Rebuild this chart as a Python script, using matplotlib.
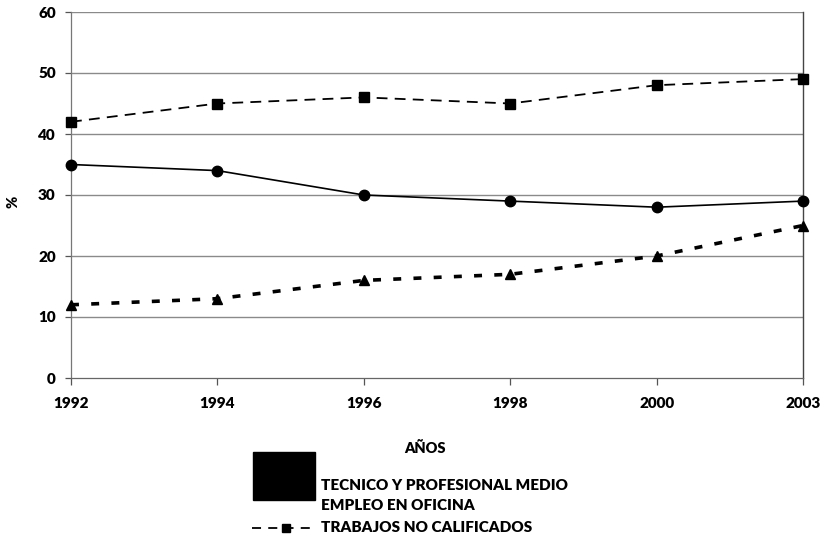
import matplotlib
matplotlib.use("Agg")
import matplotlib.pyplot as plt
from matplotlib.lines import Line2D
from matplotlib.patches import Rectangle

years = ["1992", "1994", "1996", "1998", "2000", "2003"]
tecnico = [12, 13, 16, 17, 20, 25]
oficina = [35, 34, 30, 29, 28, 29]
no_calif = [42, 45, 46, 45, 48, 49]
yticks = [0, 10, 20, 30, 40, 50, 60]

plt.rcParams['font.family'] = ['Lato', 'DejaVu Sans']
plt.rcParams['font.weight'] = 'bold'
FW = 'heavy'

W, H = 829, 537
fig = plt.figure(figsize=(W / 100, H / 100), dpi=100)
ax = fig.add_axes([71 / W, 1 - 378 / H, (803 - 71) / W, (378 - 12) / H])

x = list(range(len(years)))
ax.set_xlim(0, len(years) - 1)
ax.set_ylim(0, 60)

for v in yticks[1:]:
    ax.axhline(v, color='#8a8a8a', lw=1.0, zorder=1)

ax.plot(x, no_calif, color='black', lw=1.3, ls=(0, (6, 4)), marker='s', ms=7,
        clip_on=False, zorder=3)
ax.plot(x, oficina, color='black', lw=1.2, ls='-', marker='o', ms=7.5,
        clip_on=False, zorder=3)
ax.plot(x, tecnico, color='black', lw=2.6, ls=(0, (2.2, 3.4)), marker='^', ms=7.5,
        clip_on=False, zorder=3)

ax.spines['top'].set_visible(False)
ax.spines['left'].set_color('#777777')
ax.spines['left'].set_linewidth(0.9)
ax.spines['right'].set_color('#444444')
ax.spines['right'].set_linewidth(1.0)
ax.spines['bottom'].set_color('#666666')
ax.spines['bottom'].set_linewidth(0.9)

ax.set_xticks(x)
ax.set_xticklabels(years, fontsize=11, fontweight=FW)
ax.set_yticks(yticks)
ax.set_yticklabels([str(v) for v in yticks], fontsize=11, fontweight=FW)
ax.tick_params(axis='x', direction='out', length=5, width=0.9, color='#555555', pad=9)
ax.tick_params(axis='y', direction='out', length=4, width=0.9, color='#555555', pad=7)

fig.text(13 / W, 1 - 202 / H, '%', rotation=90, ha='center', va='center',
         fontsize=10.5, fontweight=FW)
fig.text(425 / W, 1 - 448 / H, 'AÑOS', ha='center', va='center',
         fontsize=10.5, fontweight=FW)

# Legend (drawn manually to mimic the reference layout)
fig.patches.append(Rectangle((253 / W, 1 - 500 / H), 62 / W, 48 / H,
                             transform=fig.transFigure, color='black', zorder=5))
fig.lines.append(Line2D([252 / W, 316 / W], [1 - 528 / H, 1 - 528 / H],
                        transform=fig.transFigure, color='black', lw=1.3,
                        ls=(0, (5, 4))))
fig.lines.append(Line2D([286 / W], [1 - 528 / H], transform=fig.transFigure,
                        color='black', marker='s', ms=6))
labels = ['TECNICO Y PROFESIONAL MEDIO', 'EMPLEO EN OFICINA', 'TRABAJOS NO CALIFICADOS']
for lab, yy in zip(labels, [485, 506, 527]):
    fig.text(321 / W, 1 - yy / H, lab, ha='left', va='center',
             fontsize=11, fontweight=FW)

fig.savefig('out.png', dpi=100)
